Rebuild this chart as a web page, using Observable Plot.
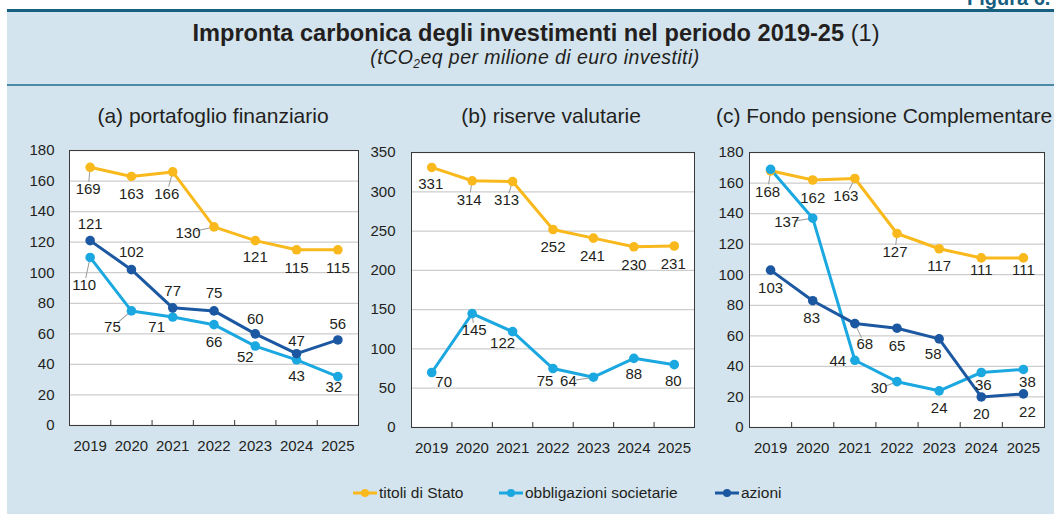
<!DOCTYPE html>
<html><head><meta charset="utf-8">
<script src="https://cdn.jsdelivr.net/npm/d3@7"></script>
<script src="https://cdn.jsdelivr.net/npm/@observablehq/plot@0.6"></script>
<style>
body{margin:0;width:1054px;height:515px;position:relative;overflow:hidden;background:#fff;font-family:"Liberation Sans",Arial,Helvetica,sans-serif;color:#231f20}
.abs{position:absolute}
.ptitle{position:absolute;font-size:21px;line-height:21px;white-space:nowrap;transform:translateX(-50%)}
.leg{position:absolute;top:484px;font-size:15.5px;line-height:18px;display:flex;align-items:center;white-space:nowrap}
.leg svg{margin-right:2px}
</style></head><body>
<div class="abs" style="left:7px;top:9px;width:1047px;height:505px;background:#d3e4ee"></div>
<div class="abs" style="left:7px;top:9px;width:1047px;height:3px;background:#17607f"></div>
<div class="abs" style="left:7px;top:84px;width:1047px;height:2px;background:#4b8aa6"></div>
<div class="abs" style="left:967px;top:-12px;font-size:20px;line-height:20px;font-weight:bold;color:#17607f;white-space:nowrap">Figura 6.</div>
<div class="abs" style="left:536px;top:23px;transform:translateX(-50%);font-size:23.6px;line-height:20px;font-weight:bold;white-space:nowrap">Impronta carbonica degli investimenti nel periodo 2019-25 <span style="font-weight:normal">(1)</span></div>
<div class="abs" style="left:535px;top:49.5px;transform:translateX(-50%);font-size:19.5px;line-height:14px;letter-spacing:0.45px;font-style:italic;white-space:nowrap">(tCO<sub style="font-size:12px;line-height:0;vertical-align:-4px">2</sub>eq per milione di euro investiti)</div>
<div id="titles"></div>
<div id="charts"></div>
<div id="legend"></div>
<script>
// ---------- data ----------
const years = [2019, 2020, 2021, 2022, 2023, 2024, 2025];
const seriesNames = ["titoli di Stato", "obbligazioni societarie", "azioni"];
const panelTitles = ["(a) portafoglio finanziario", "(b) riserve valutarie", "(c) Fondo pensione Complementare"];

// (a) portafoglio finanziario
const aTitoli = [169, 163, 166, 130, 121, 115, 115];
const aObblig = [110, 75, 71, 66, 52, 43, 32];
const aAzioni = [121, 102, 77, 75, 60, 47, 56];
// (b) riserve valutarie
const bTitoli = [331, 314, 313, 252, 241, 230, 231];
const bObblig = [70, 145, 122, 75, 64, 88, 80];
// (c) Fondo pensione Complementare
const cTitoli = [168, 162, 163, 127, 117, 111, 111];
const cObblig = [169, 137, 44, 30, 24, 36, 38];
const cAzioni = [103, 83, 68, 65, 58, 20, 22];

const ticksAC = [0, 20, 40, 60, 80, 100, 120, 140, 160, 180];
const ticksB = [0, 50, 100, 150, 200, 250, 300, 350];

// ---------- styling / label placement ----------
const colors = {"titoli di Stato": "#f9b91d", "obbligazioni societarie": "#1ba8e0", "azioni": "#1b58a1"};
const FONT = '"Liberation Sans", Arial, Helvetica, sans-serif';
// label offsets in px [dx, dy, leader?]; null = no label
const nudges = {
  aTitoli: [[-2,22,1],[0,18],[-6,22,1],[-26,6,1],[0,17],[0,18],[0,18]],
  aObblig: [[-6,28,1],[-19,16,1],[-16,10],[0,18],[-10,11],[0,16],[-4,11]],
  aAzioni: [[0,-16],[0,-17],[0,-17],[0,-18],[0,-15],[0,-13],[0,-16]],
  bTitoli: [[-1,17],[-3,19,1],[-6,19,1],[0,18],[-1,18],[0,18],[-1,18]],
  bObblig: [[12,10],[2,17,1],[-10,12],[-8,13],[-25,4,1],[0,16],[-1,17]],
  cTitoli: [[-3,21,1],[0,18],[-9,18,1],[-2,19,1],[0,17],[0,12],[0,12]],
  cObblig: [null,[-26,4,1],[-17,1],[-18,7,1],[0,17],[2,13],[4,13]],
  cAzioni: [[0,18],[-1,17],[10,21,1],[0,18],[-6,15],[0,17],[4,18]]
};

function rows(vals, name, nud) {
  return vals.map((v, i) => ({year: years[i], value: v, series: name, nud: nud[i]}));
}

const panels = [
  {title: panelTitles[0], frame: [69, 150, 358, 425], titleX: 213, ticks: ticksAC, yMax: 180, pad: 15,
   data: [rows(aTitoli, seriesNames[0], nudges.aTitoli), rows(aObblig, seriesNames[1], nudges.aObblig), rows(aAzioni, seriesNames[2], nudges.aAzioni)]},
  {title: panelTitles[1], frame: [411, 152, 694, 427], titleX: 551, ticks: ticksB, yMax: 350, pad: 16,
   data: [rows(bTitoli, seriesNames[0], nudges.bTitoli), rows(bObblig, seriesNames[1], nudges.bObblig)]},
  {title: panelTitles[2], frame: [749, 152, 1044, 427], titleX: 884, ticks: ticksAC, yMax: 180, pad: 6,
   data: [rows(cTitoli, seriesNames[0], nudges.cTitoli), rows(cObblig, seriesNames[1], nudges.cObblig), rows(cAzioni, seriesNames[2], nudges.cAzioni)]}
];

const leaderShape = {draw(ctx, l) { ctx.moveTo(0, 0); ctx.lineTo(0, -l); }};
const bounds = years.slice(1).map(y => y - 0.5);

const mL = 60, mT = 10, mR = 10, mB = 40;
panels.forEach(p => {
  const [x0, y0, x1, y1] = p.frame;
  const fw = x1 - x0, fh = y1 - y0;
  const all = p.data.flat();
  const labelled = all.filter(d => d.nud);
  const leaders = labelled.filter(d => d.nud[2]);
  const marks = [
    Plot.frame({fill: "white", stroke: null}),
    Plot.gridY(p.ticks, {stroke: "#cdcdcd", strokeOpacity: 1, strokeWidth: 1.3}),
    Plot.tickX(bounds, {x: d => d, insetTop: fh - 5, stroke: "#3a3a3a"}),
    Plot.axisY(p.ticks, {tickSize: 0, tickPadding: p.pad, fontSize: 15, label: null, fill: "#231f20"}),
    Plot.axisX(years, {tickSize: 0, tickPadding: 15, fontSize: 15, label: null, tickFormat: d => String(d), fill: "#231f20"}),
    ...leaders.map(d => {
      const [dx, dy] = d.nud;
      const dist = Math.hypot(dx, dy);
      return Plot.vector([d], {x: "year", y: "value", anchor: "start", length: Math.max(dist - 8, 4),
        rotate: Math.atan2(dx, -dy) * 180 / Math.PI, shape: leaderShape, stroke: "#9a9a9a", strokeWidth: 1});
    }),
    ...p.data.map(s => Plot.line(s, {x: "year", y: "value", stroke: colors[s[0].series], strokeWidth: 3})),
    ...p.data.map(s => Plot.dot(s, {x: "year", y: "value", r: 4.8, fill: colors[s[0].series], stroke: null})),
    ...labelled.map(d => Plot.text([d], {x: "year", y: "value", text: d => String(d.value), dx: d.nud[0], dy: d.nud[1], fontSize: 15, fill: "#231f20"})),
    Plot.frame({stroke: "#3a3a3a", strokeWidth: 1})
  ];
  const chart = Plot.plot({
    width: fw + mL + mR, height: fh + mT + mB,
    marginLeft: mL, marginTop: mT, marginRight: mR, marginBottom: mB,
    x: {type: "linear", domain: [2018.5, 2025.5], label: null},
    y: {domain: [0, p.yMax], label: null},
    style: {background: "transparent", fontFamily: FONT, fontSize: "15px", color: "#231f20", overflow: "visible"},
    marks
  });
  chart.style.position = "absolute";
  chart.style.left = (x0 - mL) + "px";
  chart.style.top = (y0 - mT) + "px";
  document.getElementById("charts").appendChild(chart);

  const t = document.createElement("div");
  t.className = "ptitle";
  t.textContent = p.title;
  t.style.left = p.titleX + "px";
  t.style.top = "105px";
  document.getElementById("titles").appendChild(t);
});

// legend
const legX = [353, 499, 715];
seriesNames.forEach((n, i) => {
  const item = document.createElement("div");
  item.className = "leg";
  item.style.left = legX[i] + "px";
  item.innerHTML = `<svg width="24" height="10"><line x1="0" x2="24" y1="5" y2="5" stroke="${colors[n]}" stroke-width="3"/><circle cx="12" cy="5" r="4" fill="${colors[n]}"/></svg><span></span>`;
  item.querySelector("span").textContent = n;
  document.getElementById("legend").appendChild(item);
});
</script>
</body></html>
